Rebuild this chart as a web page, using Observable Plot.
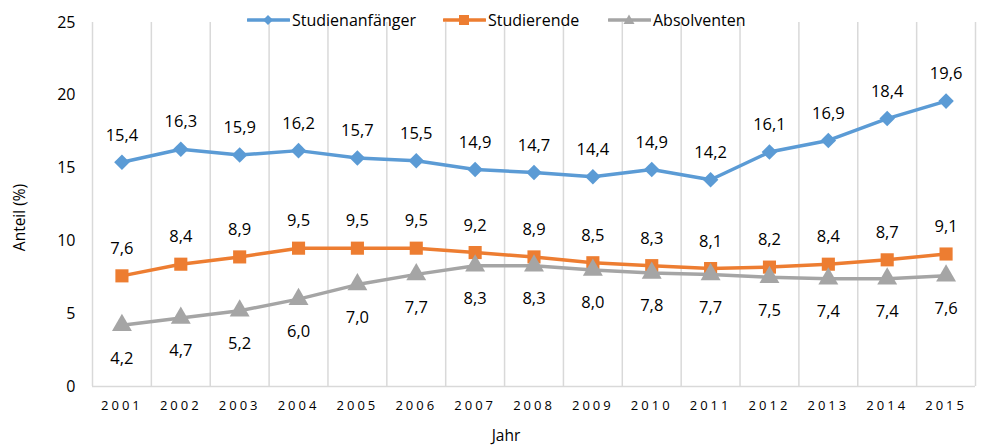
<!DOCTYPE html>
<html>
<head>
<meta charset="utf-8">
<script src="https://cdn.jsdelivr.net/npm/d3@7"></script>
<script src="https://cdn.jsdelivr.net/npm/@observablehq/plot@0.6"></script>
<style>
  html, body { margin: 0; padding: 0; background: #fff; }
  #wrap { position: relative; width: 984px; height: 448px; font-family: "Open Sans", sans-serif; }
  #wrap svg [aria-label="x-axis tick label"] text { letter-spacing: 3px; }
  .leg { position: absolute; top: 0px; display: flex; align-items: center; font-size: 16px; color: #000; white-space: nowrap; }
  .leg svg { display: block; margin-right: 2px; }
</style>
</head>
<body>
<div id="wrap"></div>
<script>
const years = [2001,2002,2003,2004,2005,2006,2007,2008,2009,2010,2011,2012,2013,2014,2015];
const anfaenger   = [15.4,16.3,15.9,16.2,15.7,15.5,14.9,14.7,14.4,14.9,14.2,16.1,16.9,18.4,19.6];
const studierende = [7.6,8.4,8.9,9.5,9.5,9.5,9.2,8.9,8.5,8.3,8.1,8.2,8.4,8.7,9.1];
const absolventen = [4.2,4.7,5.2,6.0,7.0,7.7,8.3,8.3,8.0,7.8,7.7,7.5,7.4,7.4,7.6];
const seriesNames = ["Studienanfänger", "Studierende", "Absolventen"];
const colors = ["#5b9bd5", "#ed7d31", "#a5a5a5"];
const symbols = ["diamond2", "square", "triangle"];
const yTicks = [0,5,10,15,20,25];
const yTitle = "Anteil (%)";
const xTitle = "Jahr";

const fmt = v => v.toFixed(1).replace(".", ",");
const mk = vals => years.map((y, i) => ({year: y, value: vals[i]}));
const dA = mk(anfaenger), dS = mk(studierende), dB = mk(absolventen);
const bounds = years.map(y => y - 0.5).concat([years[years.length - 1] + 0.5]);

const chart = Plot.plot({
  width: 984,
  height: 448,
  marginLeft: 92,
  marginRight: 9,
  marginTop: 22,
  marginBottom: 62,
  style: {fontFamily: "'Open Sans', sans-serif", color: "#000", background: "#fff"},
  x: {type: "linear", domain: [bounds[0], bounds[bounds.length - 1]]},
  y: {domain: [0, 25]},
  marks: [
    Plot.ruleX(bounds, {x: d => d, stroke: "#d9d9d9", strokeWidth: 1.5}),
    Plot.ruleY([0], {stroke: "#d9d9d9", strokeWidth: 1.5}),
    Plot.axisY({ticks: yTicks, tickSize: 0, tickPadding: 17, fontSize: 16, tickFormat: d => String(d), label: null}),
    Plot.axisX({ticks: years, tickSize: 0, tickPadding: 14, fontSize: 13, tickFormat: d => String(d), label: null}),
    Plot.text([yTitle], {frameAnchor: "left", textAnchor: "middle", lineAnchor: "middle", rotate: -90, dx: -72, dy: 13, fontSize: 15.5, fill: "#000"}),
    Plot.text([xTitle], {frameAnchor: "bottom", textAnchor: "middle", lineAnchor: "middle", dx: -28, dy: 50, fontSize: 15.5, fill: "#000"}),
    Plot.line(dA, {x: "year", y: "value", stroke: colors[0], strokeWidth: 3.5}),
    Plot.dot(dA, {x: "year", y: "value", symbol: symbols[0], r: 7, fill: colors[0], stroke: null}),
    Plot.line(dS, {x: "year", y: "value", stroke: colors[1], strokeWidth: 3.5}),
    Plot.dot(dS, {x: "year", y: "value", symbol: symbols[1], r: 7.4, fill: colors[1], stroke: null}),
    Plot.line(dB, {x: "year", y: "value", stroke: colors[2], strokeWidth: 3.5}),
    Plot.dot(dB, {x: "year", y: "value", symbol: symbols[2], r: 7.4, fill: colors[2], stroke: null}),
    Plot.text(dA, {x: "year", y: "value", text: d => fmt(d.value), dy: -27, fontSize: 16.5, fill: "#000"}),
    Plot.text(dS, {x: "year", y: "value", text: d => fmt(d.value), dy: -27, fontSize: 16.5, fill: "#000"}),
    Plot.text(dB, {x: "year", y: "value", text: d => fmt(d.value), dy: 33, fontSize: 16.5, fill: "#000"})
  ]
});

const wrap = document.getElementById("wrap");
wrap.appendChild(chart);

// legend
const legLeft = [247, 443, 608];
const markerPaths = [
  '<path d="M21,15 L26,20 L21,25 L16,20 Z" />',
  '<rect x="16" y="15" width="10" height="10" />',
  '<path d="M21,14.5 L26.5,24 L15.5,24 Z" />'
];
seriesNames.forEach((name, i) => {
  const div = document.createElement("div");
  div.className = "leg";
  div.style.left = legLeft[i] + "px";
  div.innerHTML = `<svg width="43" height="40" viewBox="0 0 43 40" fill="${colors[i]}">
    <line x1="1" x2="42" y1="20" y2="20" stroke="${colors[i]}" stroke-width="3.5" stroke-linecap="round"/>
    ${markerPaths[i]}</svg><span>${name}</span>`;
  wrap.appendChild(div);
});
</script>
</body>
</html>
